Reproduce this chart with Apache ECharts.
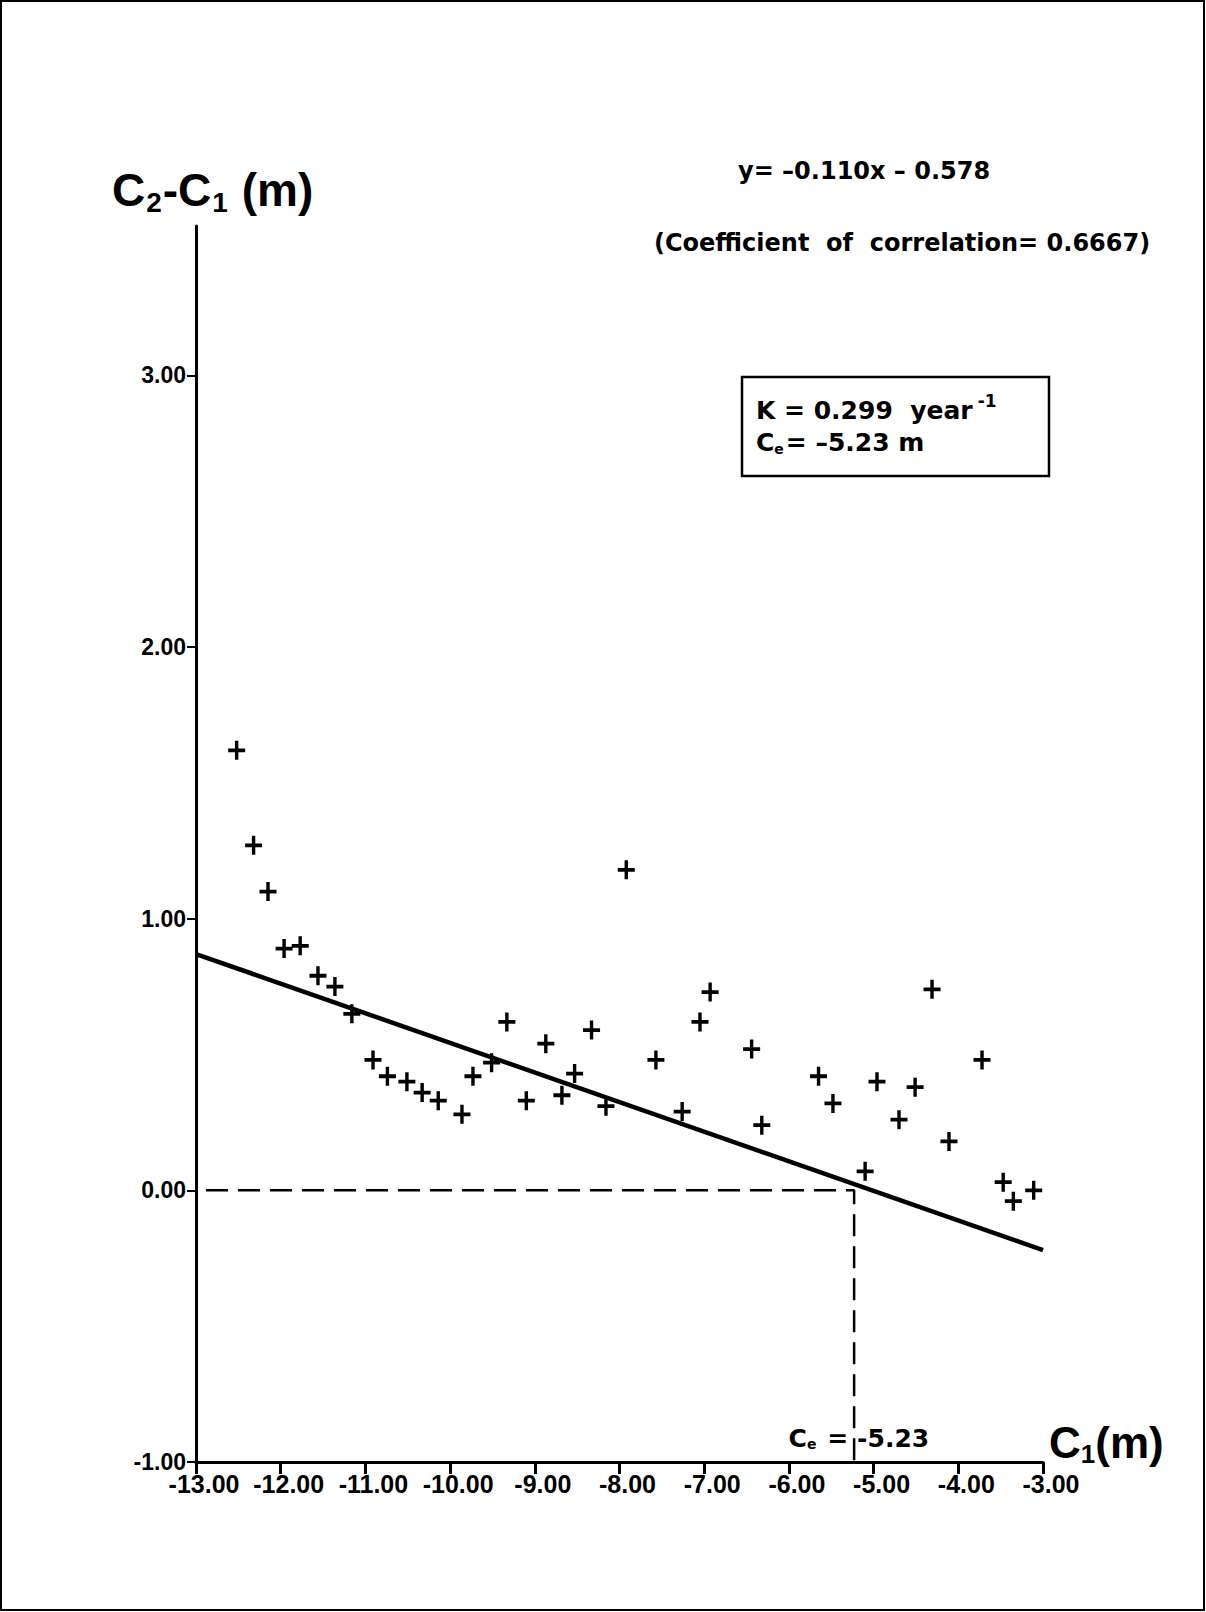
<!DOCTYPE html>
<html><head><meta charset="utf-8">
<script src="https://cdn.jsdelivr.net/npm/echarts@6/dist/echarts.min.js"></script>
<style>html,body{margin:0;padding:0;background:#fff}#c{width:1206px;height:1612px}</style>
</head><body><div id="c"></div>
<script>
// ---- data ----
const xTickValues = [-13, -12, -11, -10, -9, -8, -7, -6, -5, -4, -3];
const yTickValues = [-1, 0, 1, 2, 3];
const c1Values = [-12.52, -12.32, -12.15, -11.96, -11.77, -11.56, -11.36, -11.16, -10.91, -10.74,
  -10.51, -10.33, -10.14, -9.86, -9.73, -9.51, -9.33, -9.10, -8.87, -8.68,
  -8.53, -8.33, -8.16, -7.92, -7.57, -7.26, -7.05, -6.93, -6.44, -6.32,
  -5.65, -5.48, -5.10, -4.96, -4.70, -4.51, -4.31, -4.11, -3.72, -3.47, -3.35, -3.11];
const diffValues = [1.62, 1.27, 1.10, 0.89, 0.90, 0.79, 0.75, 0.65, 0.48, 0.42,
  0.40, 0.36, 0.33, 0.28, 0.42, 0.47, 0.62, 0.33, 0.54, 0.35,
  0.43, 0.59, 0.31, 1.18, 0.48, 0.29, 0.62, 0.73, 0.52, 0.24,
  0.42, 0.32, 0.07, 0.40, 0.26, 0.38, 0.74, 0.18, 0.48, 0.03, -0.04, 0.00];
const fitC1 = [-13, -3];
const fitDiff = [0.87, -0.22];
const ceValue = -5.23;
const yAxisMin = -1, yAxisMax = 3.55;

const FONT = 'Liberation Sans';
const FONT2 = 'DejaVu Sans';
const plus = 'path://M-1.6,-8 L1.6,-8 L1.6,-1.6 L8,-1.6 L8,1.6 L1.6,1.6 L1.6,8 L-1.6,8 L-1.6,1.6 L-8,1.6 L-8,-1.6 L-1.6,-1.6 Z';

const chart = echarts.init(document.getElementById('c'), null, {renderer: 'svg'});
const scatterData = c1Values.map((x, i) => [x, diffValues[i]]);
const fitData = fitC1.map((x, i) => [x, fitDiff[i]]);
const refData = [[xTickValues[0], 0], [ceValue, 0], [ceValue, yAxisMin]];

chart.setOption({
  animation: false,
  backgroundColor: '#fff',
  grid: {left: 196, right: 163, top: 226, bottom: 150},
  xAxis: {
    type: 'value', min: xTickValues[0], max: xTickValues[xTickValues.length - 1], interval: 1,
    axisLine: {onZero: false, lineStyle: {color: '#000', width: 3}},
    axisTick: {length: 12, lineStyle: {color: '#000', width: 3}},
    splitLine: {show: false},
    axisLabel: {color: '#000', fontFamily: FONT, fontWeight: 'bold', fontSize: 25, margin: 9,
      padding: [0, 0, 0, 16], formatter: v => v.toFixed(2)}
  },
  yAxis: {
    type: 'value', min: yAxisMin, max: yAxisMax, interval: 1,
    axisLine: {onZero: false, lineStyle: {color: '#000', width: 3}},
    axisTick: {length: 9, customValues: yTickValues, lineStyle: {color: '#000', width: 2}},
    splitLine: {show: false},
    axisLabel: {color: '#000', fontFamily: FONT, fontWeight: 'bold', fontSize: 23, margin: 10,
      customValues: yTickValues,
      formatter: v => (Math.abs(v - Math.round(v)) < 1e-9 ? v.toFixed(2) : '')}
  },
  series: [
    {type: 'line', data: refData, symbol: 'none', silent: true,
      lineStyle: {color: '#000', width: 2.5, type: [22, 10], dashOffset: -10}, z: 1},
    {type: 'line', data: fitData, symbol: 'none', silent: true,
      lineStyle: {color: '#000', width: 4.5}, z: 2},
    {type: 'scatter', data: scatterData, symbol: plus, symbolSize: [17, 19],
      itemStyle: {color: '#000', opacity: 1}, z: 3}
  ]
});

const ceP = chart.convertToPixel({xAxisIndex: 0, yAxisIndex: 0}, [ceValue, yAxisMin]);
chart.setOption({
  graphic: [
    {type: 'rect', shape: {x: 1, y: 1, width: 1203, height: 1609}, style: {fill: 'none', stroke: '#000', lineWidth: 2}, silent: true},
    {type: 'text', left: 112, top: 167, style: {
      text: '{c|C}{s|2}{c|-C}{s|1}{c| (m)}',
      rich: {c: {fontFamily: FONT, fontWeight: 'bold', fontSize: 46, fill: '#000'},
             s: {fontFamily: FONT, fontWeight: 'bold', fontSize: 28, fill: '#000', padding: [24, 1, 0, 1]}}}},
    {type: 'text', left: 1049, top: 1420, style: {
      text: '{c|C}{s|1}{c|(m)}',
      rich: {c: {fontFamily: FONT, fontWeight: 'bold', fontSize: 44, fill: '#000'},
             s: {fontFamily: FONT, fontWeight: 'bold', fontSize: 26, fill: '#000', padding: [24, 0, 0, 0]}}}},
    {type: 'text', left: 738, top: 159, style: {text: 'y= \u20130.110x \u2013 0.578',
      fontFamily: FONT2, fontWeight: 'bold', fontSize: 24, fill: '#000'}},
    {type: 'text', left: 654, top: 231, style: {text: '(Coefficient  of  correlation= 0.6667)',
      fontFamily: FONT2, fontWeight: 'bold', fontSize: 24, fill: '#000'}},
    {type: 'rect', shape: {x: 742, y: 377, width: 307, height: 99}, style: {fill: '#fff', stroke: '#000', lineWidth: 2.5}},
    {type: 'text', left: 756, top: 392, style: {
      text: '{t|K = 0.299  year}{u|-1}',
      rich: {t: {fontFamily: FONT2, fontWeight: 'bold', fontSize: 25, fill: '#000'},
             u: {fontFamily: FONT2, fontWeight: 'bold', fontSize: 17, fill: '#000', padding: [0, 0, 20, 5]}}}},
    {type: 'text', left: 756, top: 430, style: {
      text: '{t|C}{s|e}{t|= \u20135.23 m}',
      rich: {t: {fontFamily: FONT2, fontWeight: 'bold', fontSize: 25, fill: '#000'},
             s: {fontFamily: FONT2, fontWeight: 'bold', fontSize: 14, fill: '#000', padding: [12, 2, 0, 0]}}}},
    {type: 'text', x: ceP[0] - 6, y: ceP[1] - 24, style: {
      text: '{t|C}{s|e}{t| =}', align: 'right', verticalAlign: 'middle',
      rich: {t: {fontFamily: FONT2, fontWeight: 'bold', fontSize: 25, fill: '#000'},
             s: {fontFamily: FONT2, fontWeight: 'bold', fontSize: 14, fill: '#000', padding: [12, 2, 0, 0]}}}},
    {type: 'text', x: ceP[0] + 3, y: ceP[1] - 24, style: {
      text: '-5.23', align: 'left', verticalAlign: 'middle',
      fontFamily: FONT2, fontWeight: 'bold', fontSize: 25, fill: '#000'}}
  ]
});
</script></body></html>
